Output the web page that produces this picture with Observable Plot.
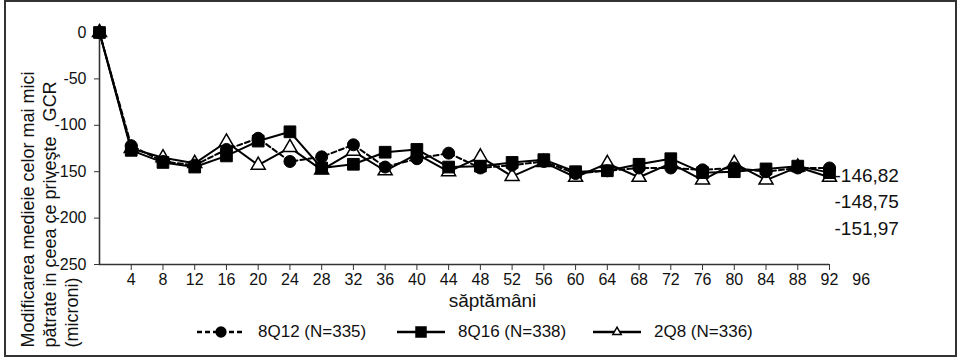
<!DOCTYPE html>
<html><head><meta charset="utf-8">
<script src="https://cdn.jsdelivr.net/npm/d3@7"></script>
<script src="https://cdn.jsdelivr.net/npm/@observablehq/plot@0.6"></script>
<style>
body{margin:0;background:#fff;font-family:"Liberation Sans",Arial,sans-serif;}
#fig{position:relative;width:962px;height:360px;overflow:hidden;background:#fff;}
#frame{position:absolute;left:4px;top:0px;width:953px;height:357px;border:2px solid #333;box-sizing:border-box;pointer-events:none;}
#legend{position:absolute;left:0;top:318px;width:962px;height:30px;}
.item{position:absolute;top:0;height:28px;display:flex;align-items:center;font-size:17px;color:#111;white-space:nowrap;}
.item svg{margin-right:13px;overflow:visible;}
</style></head><body>
<div id="fig"><div id="chart"></div><div id="legend"></div><div id="frame"></div></div>
<script>
// ---- data ----
const weeks = [0,4,8,12,16,20,24,28,32,36,40,44,48,52,56,60,64,68,72,76,80,84,88,92];
const q12 = [0,-122,-139,-143,-126,-114,-139,-134,-121,-145,-136,-130,-146,-143,-139,-152,-149,-146,-146,-148,-146,-150,-146,-146];
const q16 = [0,-127,-140,-145,-133,-117,-107,-146,-142,-129,-126,-145,-144,-140,-137,-150,-149,-142,-136,-151,-150,-147,-144,-151];
const q8  = [0,-125,-135,-141,-118,-143,-124,-148,-128,-149,-131,-150,-134,-155,-140,-156,-141,-156,-141,-159,-141,-159,-145,-156];
const seriesNames = ["8Q12 (N=335)","8Q16 (N=338)","2Q8 (N=336)"];
const yTicks = [0,-50,-100,-150,-200,-250];
const xTickLabels = [4,8,12,16,20,24,28,32,36,40,44,48,52,56,60,64,68,72,76,80,84,88,92,96];
const endLabels = ["-146,82","-148,75","-151,97"];
const endValues = [-146.82,-148.75,-151.97];
const xTitle = "săptămâni";
const yTitle = "Modificarea medieie celor mai mici\npătrate in ceea ce priveşte\u00a0\u00a0\u00a0GCR\n(microni)";

const rows = [];
[q12,q16,q8].forEach((vals,s)=>vals.forEach((v,i)=>rows.push({series:seriesNames[s], week:weeks[i], value:v})));
const bySeries = n => rows.filter(d=>d.series===n);

const ink = "#111";
const chart = Plot.plot({
  width:962, height:318,
  marginLeft:99, marginRight:133, marginTop:32, marginBottom:54,
  x:{domain:[0,92]},
  y:{domain:[-250,0]},
  style:{fontFamily:"'Liberation Sans', Arial, sans-serif", fontSize:"16px", color:ink, background:"transparent", overflow:"visible"},
  marks:[
    Plot.ruleX([0],{y1:-250,y2:0,stroke:"#333",strokeWidth:1.6}),
    Plot.ruleY([-250],{x1:0,x2:92,stroke:"#333",strokeWidth:1.6}),
    Plot.axisY({ticks:yTicks, tickSize:5, tickPadding:8, tickFormat:d=>String(d), label:null, fontSize:16, stroke:"#333"}),
    Plot.axisX({ticks:weeks.slice(1), tickSize:6, tickFormat:()=>"", label:null, stroke:"#333"}),
    Plot.axisX({ticks:xTickLabels, tickSize:0, tickPadding:9, label:null, fontSize:16}),
    Plot.line(bySeries(seriesNames[2]),{x:"week",y:"value",stroke:"#000",strokeWidth:2}),
    Plot.line(bySeries(seriesNames[0]),{x:"week",y:"value",stroke:"#000",strokeWidth:2,strokeDasharray:"5,3"}),
    Plot.line(bySeries(seriesNames[1]),{x:"week",y:"value",stroke:"#000",strokeWidth:2}),
    Plot.dot(bySeries(seriesNames[2]),{x:"week",y:"value",symbol:"triangle",r:5.2,fill:"#fff",stroke:"#000",strokeWidth:1.5}),
    Plot.dot(bySeries(seriesNames[0]),{x:"week",y:"value",symbol:"circle",r:6,fill:"#000",stroke:"#000",strokeWidth:1}),
    Plot.dot(bySeries(seriesNames[1]),{x:"week",y:"value",symbol:"square",r:6.6,fill:"#000",stroke:"#000",strokeWidth:1}),
    Plot.text([xTitle],{frameAnchor:"bottom",dx:28,dy:42,fontSize:19,fill:ink}),
    Plot.text([yTitle],{frameAnchor:"bottom-left",rotate:-90,textAnchor:"start",lineAnchor:"top",lineHeight:1.22,dx:-81,dy:83,fontSize:18,fill:ink}),
    Plot.text([endLabels.join("\n")],{x:()=>weeks[weeks.length-1],y:()=>endValues[0],textAnchor:"start",lineAnchor:"top",lineHeight:1.395,dx:5,dy:-6,fontSize:19,fill:ink})
  ]
});
document.getElementById("chart").appendChild(chart);

// ---- legend ----
const legendLeft = [197,397,593];
const symbols = ["circle","square","triangle"];
const legend = d3.select("#legend");
seriesNames.forEach((name,i)=>{
  const item = legend.append("div").attr("class","item").style("left",legendLeft[i]+"px");
  const svg = item.append("svg").attr("width",48).attr("height",16);
  svg.append("line").attr("x1",0).attr("x2",48).attr("y1",8).attr("y2",8)
     .attr("stroke","#000").attr("stroke-width",2.5).attr("stroke-dasharray",i===0?"5,3":null);
  const sym = symbols[i]==="circle"?d3.symbolCircle:symbols[i]==="square"?d3.symbolSquare:d3.symbolTriangle;
  const size = symbols[i]==="triangle"?30:symbols[i]==="circle"?75:100;
  svg.append("path").attr("transform","translate(24,8)").attr("d",d3.symbol(sym,size)())
     .attr("fill",symbols[i]==="triangle"?"#fff":"#000").attr("stroke","#000").attr("stroke-width",1.5);
  item.append("span").text(name);
});
</script>
</body></html>
